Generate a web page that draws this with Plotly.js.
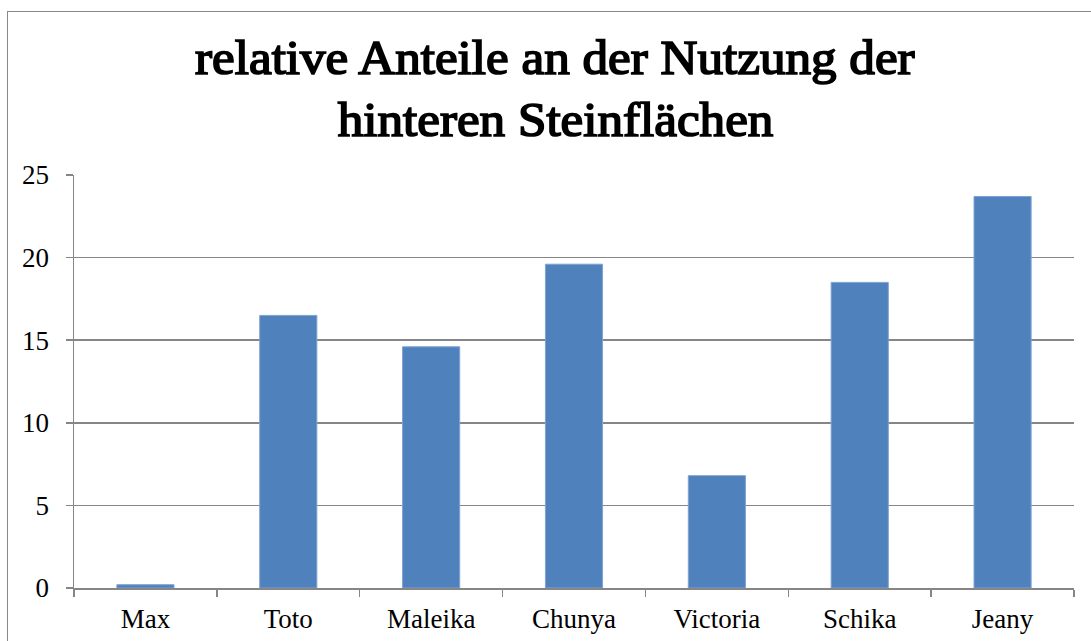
<!DOCTYPE html>
<html>
<head>
<meta charset="utf-8">
<script src="https://cdn.plot.ly/plotly-3.0.1.min.js"></script>
<style>
  html, body { margin: 0; padding: 0; background: #fff; }
  #wrap { position: relative; width: 1091px; height: 641px; overflow: hidden; }
  #frame { position: absolute; left: 7px; top: 11px; width: 1200px; height: 800px;
           border: 1.5px solid #888888; box-sizing: border-box; pointer-events: none; }
  #chart { position: absolute; left: 0; top: 0; width: 1091px; height: 641px; }
  #chart .annotation-text {
    stroke: #000; stroke-width: 1.7px; paint-order: stroke fill;
    transform-box: fill-box; transform-origin: center; transform: scaleX(1.065);
  }
</style>
</head>
<body>
<div id="wrap">
  <div id="frame"></div>
  <div id="chart"></div>
</div>
<script>
const categories = ["Max", "Toto", "Maleika", "Chunya", "Victoria", "Schika", "Jeany"];
const values = [0.2, 16.5, 14.6, 19.6, 6.8, 18.5, 23.7];
const yTicks = [0, 5, 10, 15, 20, 25];
const titleLines = ["relative Anteile an der Nutzung der", "hinteren Steinflächen"];

const serif = 'Liberation Serif';
const plotTop = 175, plotBottom = 588;
const lineCenters = [58, 120];

const trace = {
  type: 'bar',
  x: categories,
  y: values,
  marker: { color: '#4F81BD', line: { color: '#7FA3D1', width: 1 } },
  hoverinfo: 'x+y'
};

const layout = {
  width: 1091,
  height: 641,
  paper_bgcolor: 'rgba(0,0,0,0)',
  plot_bgcolor: 'rgba(0,0,0,0)',
  margin: { l: 74, r: 17, t: 175, b: 53 },
  bargap: 0.6,
  showlegend: false,
  font: { family: serif, color: '#000', size: 27 },
  annotations: titleLines.map((t, i) => ({
    text: t,
    font: { family: serif, size: 48, color: '#000' },
    xref: 'paper', yref: 'paper',
    x: (555 - 74) / 1000, xanchor: 'center',
    y: (plotBottom - lineCenters[i]) / (plotBottom - plotTop), yanchor: 'middle',
    showarrow: false, align: 'center'
  })),
  xaxis: {
    type: 'category',
    showgrid: false,
    showline: true, linecolor: '#868686', linewidth: 1.5,
    ticks: 'outside', tickson: 'boundaries', ticklen: 7, tickcolor: '#868686', tickwidth: 1.5,
    ticklabelstandoff: 6,
    tickfont: { family: serif, size: 27, color: '#000' },
    zeroline: false
  },
  yaxis: {
    range: [0, 25],
    tickvals: yTicks,
    ticktext: yTicks.map(String),
    showgrid: true, gridcolor: '#868686', gridwidth: 1.5,
    showline: true, linecolor: '#868686', linewidth: 1.5,
    ticks: 'outside', ticklen: 7, tickcolor: '#868686', tickwidth: 1.5,
    ticklabelstandoff: 11,
    tickfont: { family: serif, size: 27, color: '#000' },
    zeroline: false
  }
};

Plotly.newPlot('chart', [trace], layout, { displayModeBar: false, staticPlot: true });
</script>
</body>
</html>
